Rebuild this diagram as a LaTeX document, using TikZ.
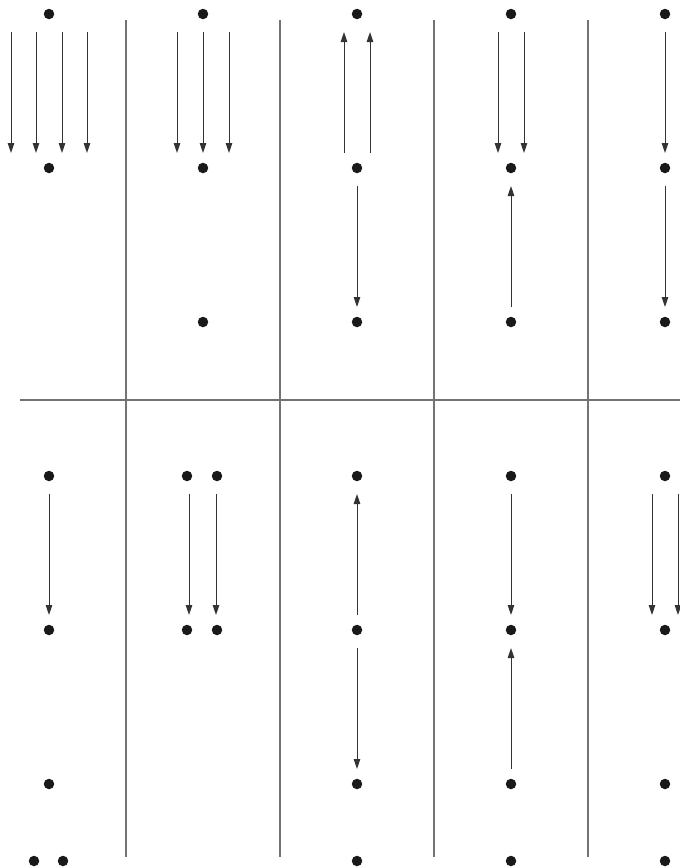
\documentclass[tikz,border=0pt]{standalone}
\usepackage{tikz}
\usetikzlibrary{arrows.meta}

\tikzset{
  dot/.style={circle,fill=black!90,inner sep=0pt,minimum size=0.21cm},
  rule/.style={black!55,line width=0.7pt},
  arrdn/.style={-{Triangle[length=0.2cm,width=0.13cm]},black!80,line width=0.55pt,
    shorten <=0.36cm,shorten >=0.3cm},
  arrup/.style={-{Triangle[length=0.2cm,width=0.13cm]},black!80,line width=0.55pt,
    shorten <=0.3cm,shorten >=0.36cm}
}

\begin{document}
\begin{tikzpicture}[x=0.02cm,y=-0.02cm]
\useasboundingbox (0,0) rectangle (680,867);

% Panel rules
\foreach \x in {126,280,434,588} \draw[rule] (\x,20) -- (\x,857);
\draw[rule] (20,400) -- (680,400);

% Top row dots
\foreach \c/\x in {1/49,2/203,3/357,4/511,5/665} {
  \node[dot] (ta\c) at (\x,14) {};
  \node[dot] (tb\c) at (\x,168) {};
}
\foreach \c/\x in {2/203,3/357,4/511,5/665}
  \node[dot] (tc\c) at (\x,322) {};

% Top row arrows
\foreach \s in {-38,-13,13,38}
  \draw[arrdn] ([shift={(\s,0)}]ta1.center) -- ([shift={(\s,0)}]tb1.center);
\foreach \s in {-26,0,26}
  \draw[arrdn] ([shift={(\s,0)}]ta2.center) -- ([shift={(\s,0)}]tb2.center);
\foreach \s in {-13,13}
  \draw[arrup] ([shift={(\s,0)}]tb3.center) -- ([shift={(\s,0)}]ta3.center);
\draw[arrdn] (tb3.center) -- (tc3.center);
\foreach \s in {-13,13}
  \draw[arrdn] ([shift={(\s,0)}]ta4.center) -- ([shift={(\s,0)}]tb4.center);
\draw[arrup] (tc4.center) -- (tb4.center);
\draw[arrdn] (ta5.center) -- (tb5.center);
\draw[arrdn] (tb5.center) -- (tc5.center);

% Bottom row dots
\node[dot] (ba1) at (49,476) {};
\node[dot] (bb1) at (49,630) {};
\node[dot] (bc1) at (49,784) {};
\node[dot] (bdl1) at (34,861) {};
\node[dot] (bdr1) at (63,861) {};

\node[dot] (bal2) at (187,476) {};
\node[dot] (bar2) at (217,476) {};
\node[dot] (bbl2) at (187,630) {};
\node[dot] (bbr2) at (217,630) {};

\foreach \c/\x in {3/357,4/511,5/665} {
  \node[dot] (ba\c) at (\x,476) {};
  \node[dot] (bb\c) at (\x,630) {};
  \node[dot] (bc\c) at (\x,784) {};
  \node[dot] (bd\c) at (\x,861) {};
}

% Bottom row arrows
\draw[arrdn] (ba1.center) -- (bb1.center);
\draw[arrdn] ([shift={(2,0)}]bal2.center) -- ([shift={(2,0)}]bbl2.center);
\draw[arrdn] ([shift={(-1,0)}]bar2.center) -- ([shift={(-1,0)}]bbr2.center);
\draw[arrup] (bb3.center) -- (ba3.center);
\draw[arrdn] (bb3.center) -- (bc3.center);
\draw[arrdn] (ba4.center) -- (bb4.center);
\draw[arrup] (bc4.center) -- (bb4.center);
\foreach \s in {-13,13}
  \draw[arrdn] ([shift={(\s,0)}]ba5.center) -- ([shift={(\s,0)}]bb5.center);
\end{tikzpicture}
\end{document}
